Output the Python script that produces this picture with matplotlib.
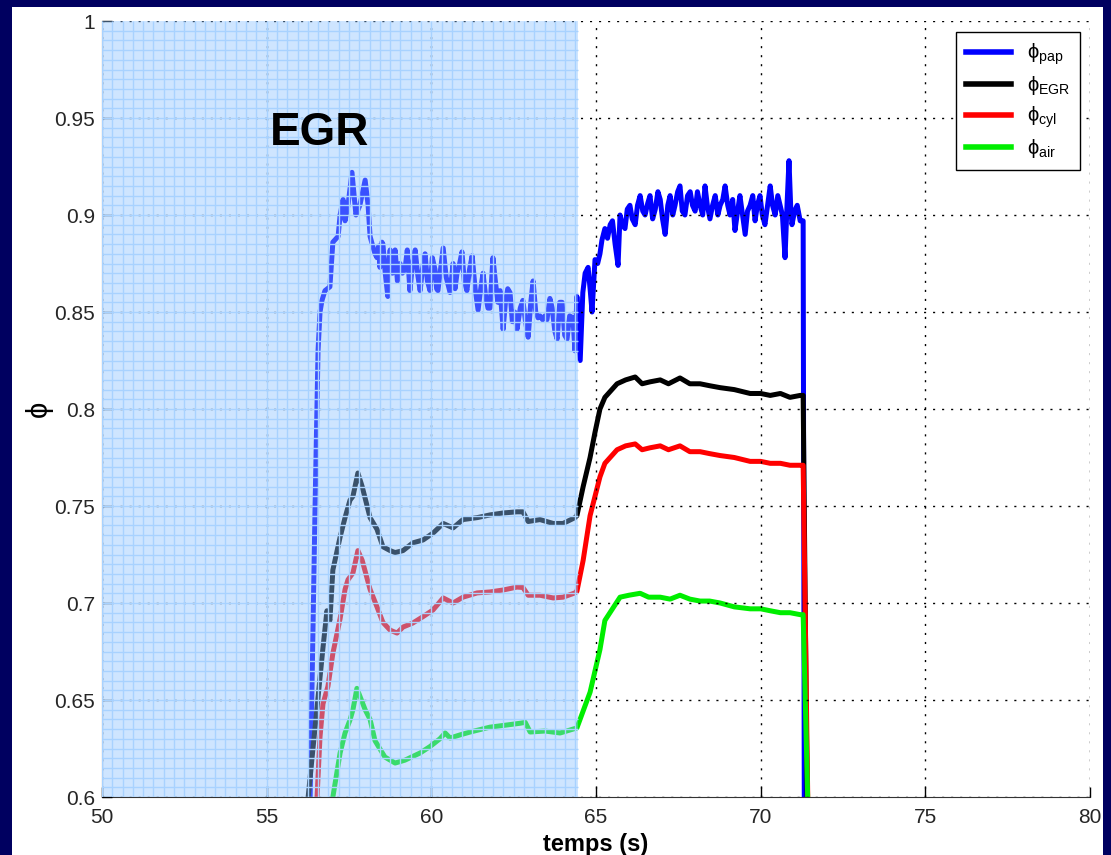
import numpy as np
import matplotlib
matplotlib.use("Agg")
import matplotlib.pyplot as plt
from matplotlib.patches import Rectangle

plt.rcParams['font.family'] = ['Liberation Sans', 'DejaVu Sans']
plt.rcParams['mathtext.fontset'] = 'custom'
plt.rcParams['mathtext.rm'] = 'Liberation Sans'
plt.rcParams['mathtext.it'] = 'Liberation Sans'

# -------- DATA --------
t_pap = [56.00, 56.32, 56.47, 56.56, 56.62, 56.68, 56.77, 56.92, 56.98, 57.01, 57.17, 57.23, 57.32,
         57.38, 57.47, 57.59, 57.71, 57.83, 57.99, 58.08,
         58.14, 58.22, 58.29, 58.35, 58.40, 58.44, 58.50, 58.53, 58.60, 58.68, 58.72, 58.75, 58.82,
         58.90, 58.97, 59.05, 59.12, 59.20, 59.27, 59.35, 59.43, 59.51, 59.58, 59.66, 59.73, 59.81,
         59.88, 59.96, 60.03, 60.11, 60.16, 60.20, 60.28, 60.36, 60.45, 60.57, 60.66, 60.72, 60.78,
         60.86, 60.93, 61.00, 61.08, 61.16, 61.24, 61.33, 61.42, 61.50, 61.57, 61.65, 61.72, 61.78,
         61.87, 61.95, 62.02, 62.09, 62.18, 62.25, 62.32, 62.39, 62.46, 62.53, 62.60, 62.70, 62.78,
         62.86, 62.94, 63.02, 63.09, 63.17, 63.24, 63.30, 63.38, 63.45, 63.51, 63.60, 63.67, 63.75,
         63.82, 63.90, 63.97, 64.05, 64.12, 64.20, 64.30, 64.36, 64.42,
         64.52, 64.60, 64.67, 64.76, 64.82, 64.88, 64.97, 65.05, 65.12, 65.18, 65.27, 65.35, 65.43,
         65.50, 65.58, 65.67, 65.73, 65.80, 65.88, 65.95, 66.03, 66.10, 66.19, 66.26, 66.34, 66.42,
         66.49, 66.57, 66.64, 66.72, 66.80, 66.88, 66.95, 67.02, 67.10, 67.18, 67.25, 67.33, 67.40,
         67.48, 67.55, 67.62, 67.70, 67.78, 67.86, 67.93, 68.01, 68.08, 68.16, 68.24, 68.31, 68.38,
         68.46, 68.54, 68.62, 68.70, 68.77, 68.85, 68.92, 69.00, 69.07, 69.15, 69.22, 69.30, 69.37,
         69.45, 69.53, 69.60, 69.68, 69.76, 69.83, 69.90, 69.98, 70.05, 70.13, 70.21, 70.29, 70.36,
         70.44, 70.52, 70.59, 70.66, 70.74, 70.80, 70.86, 70.91, 70.95, 71.03, 71.11, 71.20, 71.29,
         71.33]
phi_pap = [0.550, 0.600, 0.750, 0.830, 0.850, 0.856, 0.861, 0.863, 0.878, 0.886, 0.889, 0.900, 0.908,
           0.897, 0.905, 0.922, 0.900, 0.905, 0.918, 0.905,
           0.889, 0.884, 0.880, 0.878, 0.884, 0.873, 0.886, 0.885, 0.870, 0.858, 0.878, 0.882, 0.870,
           0.882, 0.866, 0.875, 0.870, 0.872, 0.882, 0.861, 0.875, 0.882, 0.870, 0.861, 0.872, 0.880,
           0.866, 0.861, 0.878, 0.872, 0.862, 0.861, 0.872, 0.883, 0.868, 0.860, 0.875, 0.862, 0.870,
           0.875, 0.881, 0.866, 0.861, 0.872, 0.879, 0.862, 0.851, 0.862, 0.870, 0.858, 0.852, 0.852,
           0.878, 0.865, 0.855, 0.861, 0.841, 0.855, 0.862, 0.860, 0.845, 0.850, 0.841, 0.852, 0.856,
           0.845, 0.837, 0.855, 0.866, 0.850, 0.847, 0.848, 0.846, 0.848, 0.846, 0.857, 0.852, 0.840,
           0.836, 0.855, 0.855, 0.838, 0.836, 0.848, 0.847, 0.830, 0.858,
           0.825, 0.860, 0.870, 0.873, 0.862, 0.850, 0.877, 0.875, 0.880, 0.887, 0.893, 0.888, 0.895,
           0.897, 0.885, 0.874, 0.900, 0.895, 0.893, 0.903, 0.905, 0.898, 0.895, 0.905, 0.910, 0.902,
           0.900, 0.906, 0.910, 0.898, 0.903, 0.912, 0.908, 0.898, 0.890, 0.905, 0.910, 0.900, 0.905,
           0.912, 0.915, 0.902, 0.900, 0.910, 0.912, 0.905, 0.902, 0.912, 0.905, 0.900, 0.915, 0.905,
           0.898, 0.905, 0.910, 0.900, 0.905, 0.908, 0.915, 0.905, 0.900, 0.908, 0.892, 0.902, 0.910,
           0.900, 0.890, 0.902, 0.905, 0.910, 0.897, 0.905, 0.910, 0.900, 0.895, 0.905, 0.915, 0.905,
           0.900, 0.910, 0.905, 0.900, 0.878, 0.905, 0.928, 0.905, 0.895, 0.902, 0.905, 0.897, 0.897,
           0.550]

t_egr = [56.20, 56.26, 56.71, 56.83, 56.92, 57.01, 57.23, 57.38, 57.53, 57.62, 57.77, 57.90, 58.14,
         58.35, 58.53, 58.75, 58.90, 59.14, 59.44, 59.75, 60.05, 60.36, 60.66, 60.96, 61.39, 61.78,
         62.18, 62.60, 62.78, 62.94, 63.30, 63.70, 64.00, 64.36, 64.42, 64.61, 64.82, 64.97, 65.12,
         65.27, 65.64, 65.90, 66.19, 66.40, 66.64, 66.95, 67.20, 67.55, 67.85, 68.16, 68.45, 68.77,
         69.20, 69.68, 70.00, 70.29, 70.60, 70.89, 71.20, 71.29, 71.44]
phi_egr = [0.550, 0.600, 0.677, 0.696, 0.691, 0.717, 0.734, 0.744, 0.753, 0.755, 0.767, 0.760, 0.744,
           0.738, 0.729, 0.727, 0.726, 0.727, 0.731, 0.7325, 0.736, 0.741, 0.7387, 0.743, 0.744, 0.7454,
           0.7464, 0.747, 0.747, 0.742, 0.743, 0.741, 0.741, 0.744, 0.745, 0.760, 0.775, 0.788, 0.800,
           0.806, 0.813, 0.815, 0.8165, 0.813, 0.814, 0.815, 0.813, 0.816, 0.813, 0.813, 0.812, 0.811,
           0.810, 0.808, 0.808, 0.807, 0.808, 0.806, 0.807, 0.807, 0.550]

t_cyl = [56.45, 56.53, 56.62, 56.71, 56.86, 57.01, 57.23, 57.38, 57.47, 57.62, 57.77, 57.90, 58.14,
         58.35, 58.53, 58.75, 58.96, 59.14, 59.44, 59.75, 60.05, 60.36, 60.66, 60.96, 61.39, 61.78,
         62.18, 62.60, 62.78, 62.94, 63.30, 63.70, 64.00, 64.36, 64.42, 64.61, 64.82, 64.97, 65.12,
         65.27, 65.64, 65.90, 66.19, 66.40, 66.64, 66.95, 67.20, 67.55, 67.85, 68.16, 68.45, 68.77,
         69.20, 69.68, 70.00, 70.29, 70.60, 70.89, 71.20, 71.29, 71.47]
phi_cyl = [0.550, 0.600, 0.631, 0.648, 0.657, 0.674, 0.692, 0.707, 0.712, 0.7155, 0.727, 0.722, 0.707,
           0.698, 0.690, 0.686, 0.6845, 0.6876, 0.6897, 0.693, 0.6964, 0.7026, 0.700, 0.703, 0.7052, 0.7057,
           0.7067, 0.7082, 0.708, 0.704, 0.704, 0.7026, 0.703, 0.7052, 0.706, 0.722, 0.745, 0.755, 0.765,
           0.772, 0.779, 0.781, 0.782, 0.779, 0.780, 0.781, 0.779, 0.781, 0.778, 0.778, 0.777, 0.776,
           0.775, 0.773, 0.773, 0.772, 0.772, 0.771, 0.771, 0.771, 0.550]

t_air = [56.95, 57.01, 57.23, 57.38, 57.53, 57.62, 57.74, 57.99, 58.14, 58.29, 58.59, 58.90, 59.20,
         59.66, 59.96, 60.26, 60.42, 60.57, 60.87, 61.18, 61.78, 62.24, 62.69, 62.85, 63.00, 63.45,
         63.91, 64.42, 64.82, 65.12, 65.27, 65.73, 66.00, 66.34, 66.60, 66.95, 67.25, 67.55, 67.85,
         68.16, 68.45, 68.77, 69.20, 69.68, 70.00, 70.29, 70.60, 70.89, 71.20, 71.29, 71.50]
phi_air = [0.550, 0.600, 0.6227, 0.633, 0.6397, 0.645, 0.656, 0.645, 0.640, 0.629, 0.6206, 0.6175, 0.619,
           0.6227, 0.626, 0.630, 0.633, 0.6304, 0.632, 0.6335, 0.636, 0.637, 0.638, 0.6385, 0.6335, 0.634,
           0.633, 0.6356, 0.654, 0.676, 0.691, 0.703, 0.704, 0.705, 0.703, 0.703, 0.702, 0.704, 0.702,
           0.701, 0.701, 0.700, 0.698, 0.697, 0.697, 0.696, 0.695, 0.695, 0.694, 0.694, 0.550]

egr_start, egr_end = 50.0, 64.45
labels = [r"ϕ$_{\mathrm{pap}}$", r"ϕ$_{\mathrm{EGR}}$", r"ϕ$_{\mathrm{cyl}}$", r"ϕ$_{\mathrm{air}}$"]
colors = ["#0000ff", "#000000", "#ff0000", "#00ee00"]

# -------- FIGURE --------
fig = plt.figure(figsize=(11.11, 8.55), dpi=100, facecolor="#000060")
fig.patches.append(Rectangle((12/1111, 0), (1103-12)/1111, 1 - 7/855,
                             transform=fig.transFigure, facecolor="white", edgecolor="none", zorder=-5))
ax = fig.add_axes([102/1111, 1 - 797/855, (1090-102)/1111, (797-21)/855])
ax.set_facecolor("white")

for t, y, c, lab in zip([t_pap, t_egr, t_cyl, t_air], [phi_pap, phi_egr, phi_cyl, phi_air], colors, labels):
    ax.plot(t, y, color=c, lw=3.6, label=lab, zorder=2, solid_joinstyle="round")

# shaded EGR window drawn over the curves
ax.axvspan(egr_start, egr_end, color="#8cc3ff", alpha=0.42, lw=0, zorder=3)
ax.vlines(np.arange(egr_start, egr_end, 0.3125), 0.6, 1.0, color="#a8d2ff", lw=1, zorder=3.2)
ax.hlines(np.arange(0.6, 1.0, 0.005), egr_start, egr_end, color="#a8d2ff", lw=1, zorder=3.2)

ax.set_xlim(50, 80)
ax.set_ylim(0.6, 1.0)
ax.set_xticks(np.arange(50, 81, 5))
ax.set_yticks(np.arange(0.6, 1.001, 0.05))
ax.set_yticklabels(["0.6", "0.65", "0.7", "0.75", "0.8", "0.85", "0.9", "0.95", "1"])
ax.grid(True, color="black", linestyle=(0, (1.5, 5)), lw=1, zorder=3.5)
ax.set_axisbelow(False)
ax.tick_params(direction="in", length=7, width=1, labelsize=15, labelcolor="#262626", pad=5)
ax.tick_params(axis="x", pad=8)
ax.spines["top"].set_visible(False)
ax.spines["right"].set_visible(False)
ax.spines["left"].set_color("#333333")
ax.spines["bottom"].set_color("#333333")

ax.text(55.1, 0.936, "EGR", fontsize=33, fontweight="bold", ha="left", va="baseline", zorder=5)
ax.set_xlabel("temps (s)", fontsize=17, fontweight="bold", labelpad=4)
ax.set_ylabel("\u03d5", fontsize=21, labelpad=1)

leg = ax.legend(loc="upper right", bbox_to_anchor=(0.99, 0.986), borderaxespad=0,
                fontsize=14.5, handlelength=2.2, handletextpad=0.8, labelspacing=0.35,
                fancybox=False, edgecolor="black", framealpha=1, borderpad=0.5)
leg.get_frame().set_linewidth(1)
for h in leg.get_lines():
    h.set_linewidth(4)
leg.set_zorder(6)

fig.savefig("out.png", dpi=100, facecolor=fig.get_facecolor())
